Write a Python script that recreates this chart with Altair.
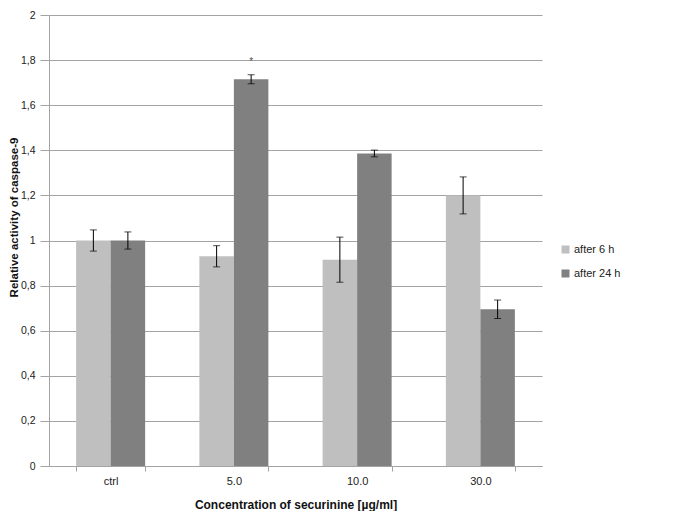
import altair as alt
import pandas as pd

categories = ["ctrl", "5.0", "10.0", "30.0"]
series = ["after 6 h", "after 24 h"]
values_6h = [1.0, 0.93, 0.915, 1.20]
err_6h = [0.047, 0.047, 0.10, 0.082]
values_24h = [1.0, 1.715, 1.386, 0.695]
err_24h = [0.038, 0.02, 0.015, 0.041]
y_ticks = [0, 0.2, 0.4, 0.6, 0.8, 1, 1.2, 1.4, 1.6, 1.8, 2]
star_cat = "5.0"
star_series = "after 24 h"
star_y = 1.79
colors = ["#bfbfbf", "#808080"]

rows = []
for i, c in enumerate(categories):
    rows.append(dict(cat=c, series=series[0], value=values_6h[i],
                     lo=values_6h[i] - err_6h[i], hi=values_6h[i] + err_6h[i]))
    rows.append(dict(cat=c, series=series[1], value=values_24h[i],
                     lo=values_24h[i] - err_24h[i], hi=values_24h[i] + err_24h[i]))
df = pd.DataFrame(rows)
star_df = pd.DataFrame([dict(cat=star_cat, series=star_series, y=star_y, t="*")])

FONT = "Liberation Sans"
GRID = "#a3a3a3"

x_enc = alt.X("cat:N", sort=categories,
              scale=alt.Scale(paddingInner=0.44, paddingOuter=0.22),
              axis=alt.Axis(title="Concentration of securinine [µg/ml]", labelAngle=0,
                            tickBand="extent", tickSize=5, tickColor=GRID,
                            domainColor=GRID, labelFont=FONT, labelFontSize=11,
                            labelColor="#222222", labelPadding=4,
                            titleFont=FONT, titleFontSize=12, titleFontWeight="bold",
                            titleColor="#111111", titlePadding=13))
xo_enc = alt.XOffset("series:N", sort=series,
                     scale=alt.Scale(paddingInner=0, paddingOuter=0))

y_enc = alt.Y("value:Q",
              scale=alt.Scale(domain=[0, 2], nice=False),
              axis=alt.Axis(title="Relative activity of caspase-9", values=y_ticks,
                            labelExpr="replace(format(datum.value, '~g'), '.', ',')",
                            grid=True, gridColor=GRID, domainColor=GRID,
                            tickColor=GRID, tickSize=9, labelPadding=5,
                            labelFont=FONT, labelFontSize=10.5, labelColor="#222222",
                            titleFont=FONT, titleFontSize=11.5, titleFontWeight="bold",
                            titleColor="#111111", titleX=-32, titleY=202,
                            titleBaseline="alphabetic"))

bars = alt.Chart(df).mark_bar().encode(
    x=x_enc, xOffset=xo_enc, y=y_enc,
    color=alt.Color("series:N", sort=series,
                    scale=alt.Scale(domain=series, range=colors),
                    legend=alt.Legend(title=None, orient="none", legendX=511, legendY=229,
                                      symbolType="square", symbolSize=64,
                                      symbolStrokeWidth=0, labelFont=FONT,
                                      labelFontSize=11, labelColor="#222222",
                                      rowPadding=12, labelOffset=3))
)

rules = alt.Chart(df).mark_rule(color="black", strokeWidth=1).encode(
    x=alt.X("cat:N", sort=categories), xOffset=alt.XOffset("series:N", sort=series),
    y=alt.Y("lo:Q"), y2="hi:Q"
)
caps_hi = alt.Chart(df).mark_tick(color="black", thickness=1, size=7).encode(
    x=alt.X("cat:N", sort=categories), xOffset=alt.XOffset("series:N", sort=series),
    y=alt.Y("hi:Q")
)
caps_lo = alt.Chart(df).mark_tick(color="black", thickness=1, size=7).encode(
    x=alt.X("cat:N", sort=categories), xOffset=alt.XOffset("series:N", sort=series),
    y=alt.Y("lo:Q")
)
star = alt.Chart(star_df).mark_text(fontSize=10, color="#555555", font=FONT).encode(
    x=alt.X("cat:N", sort=categories), xOffset=alt.XOffset("series:N", sort=series),
    y=alt.Y("y:Q"), text="t:N"
)

chart = alt.layer(bars, rules, caps_hi, caps_lo, star).properties(
    width=493, height=451,
    autosize=alt.AutoSizeParams(type="none"),
    padding={"left": 41, "top": 7, "right": 140, "bottom": 45},
).configure_view(stroke=None).configure_axis(labelFontWeight="normal")

chart.save("out.html", embed_options={"renderer": "svg", "actions": False})
